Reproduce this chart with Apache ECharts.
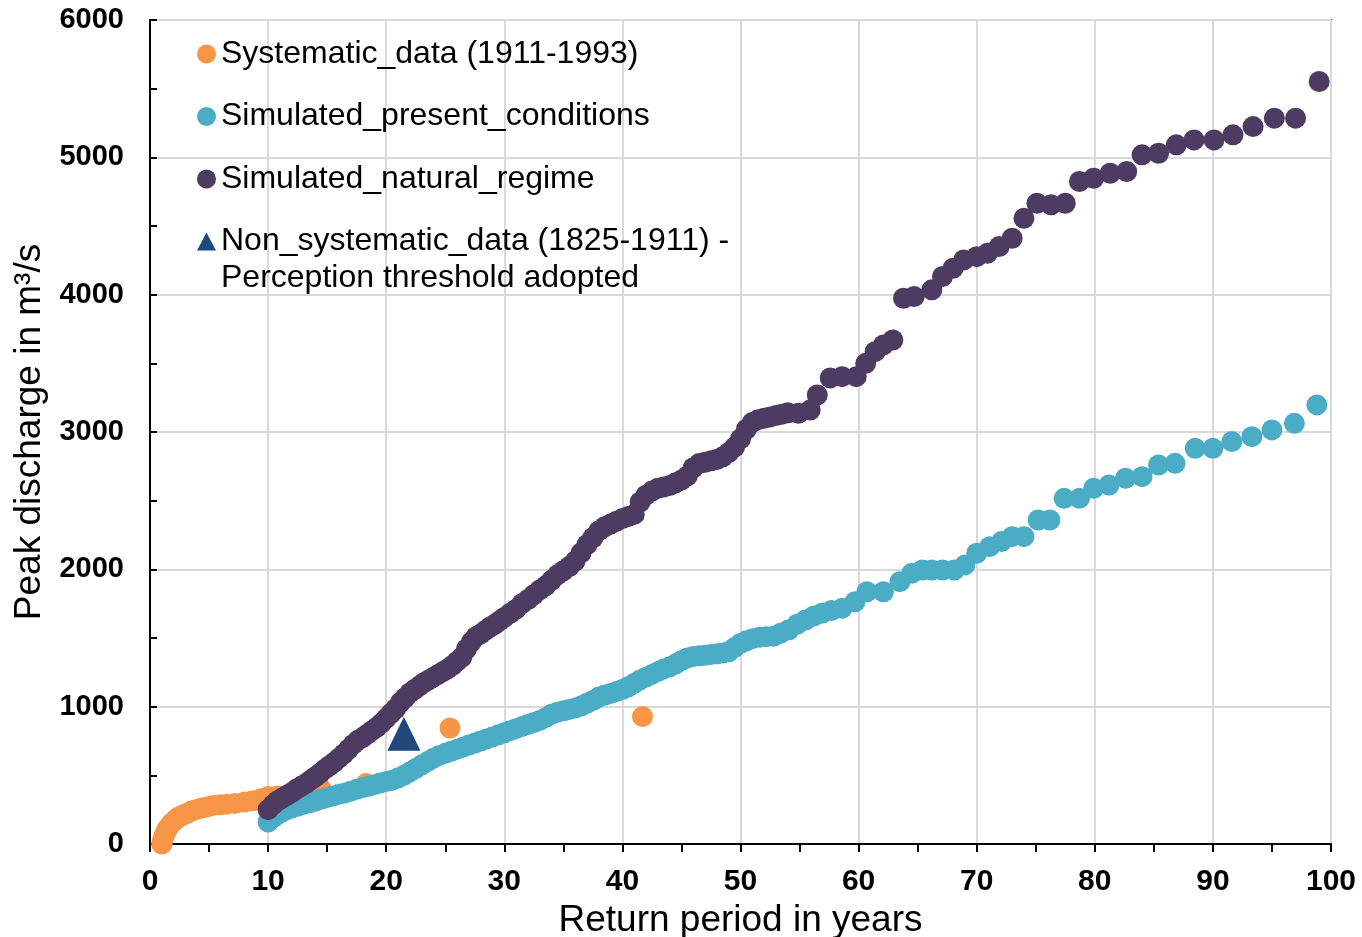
<!DOCTYPE html>
<html>
<head>
<meta charset="utf-8">
<title>Peak discharge vs return period</title>
<script src="https://cdn.jsdelivr.net/npm/echarts@6/dist/echarts.min.js"></script>
<style>
  html, body { margin: 0; padding: 0; background: #fff; }
  #chart { width: 1362px; height: 937px; }
</style>
</head>
<body>
<div id="chart"></div>
<script>
// Return period (years) and peak discharge (m³/s) for each series

const systematicT = [1.0, 1.05, 1.1, 1.2, 1.3, 1.4, 1.5, 1.65, 1.8, 2.0, 2.2, 2.4, 2.65, 2.9, 3.2, 3.5, 3.9, 4.3, 4.8, 5.3, 5.9, 6.5, 7.2, 8.0, 8.7, 9.4, 10.0, 10.8, 11.8, 13.0, 14.5, 18.3, 25.4, 41.7];
const systematicQ = [0, 20, 40, 60, 80, 100, 115, 130, 150, 165, 180, 195, 205, 215, 225, 240, 250, 260, 270, 280, 285, 290, 295, 305, 315, 330, 345, 350, 360, 370, 400, 440, 845, 928];

const presentT = [10.0, 10.4, 10.8, 11.2, 11.6, 12.0, 12.5, 13.0, 13.5, 14.0, 14.5, 15.0, 15.5, 16.0, 16.5, 17.0, 17.5, 18.0, 18.5, 19.0, 19.5, 20.0, 20.5, 21.0, 21.5, 22.0, 22.5, 23.0, 23.5, 24.0, 24.5, 25.0, 25.5, 26.0, 26.5, 27.0, 27.5, 28.0, 28.5, 29.0, 29.5, 30.0, 30.5, 31.0, 31.5, 32.0, 32.5, 33.0, 33.5, 34.0, 34.5, 35.0, 35.5, 36.0, 36.5, 37.0, 37.5, 38.0, 38.5, 39.0, 39.5, 40.0, 40.5, 41.0, 41.5, 42.0, 42.5, 43.0, 43.5, 44.0, 44.5, 45.0, 45.5, 46.0, 46.5, 47.0, 47.5, 48.0, 48.5, 49.0, 49.5, 50.0, 50.5, 51.0, 51.6, 52.2, 52.8, 53.4, 54.1, 54.8, 55.5, 56.2, 56.9, 57.7, 58.6, 59.7, 60.7, 62.1, 63.5, 64.5, 65.4, 66.2, 67.1, 68.1, 69.0, 70.0, 71.1, 72.1, 73.0, 74.0, 75.2, 76.2, 77.4, 78.7, 79.9, 81.2, 82.6, 84.0, 85.4, 86.8, 88.5, 90.0, 91.6, 93.3, 95.0, 96.9, 98.8];
const presentQ = [160, 190, 215, 235, 250, 262, 275, 288, 300, 312, 325, 338, 350, 362, 372, 385, 398, 410, 420, 432, 445, 455, 465, 480, 500, 525, 550, 575, 600, 625, 645, 660, 675, 690, 705, 720, 735, 750, 765, 780, 795, 810, 825, 840, 855, 870, 885, 900, 920, 945, 960, 970, 980, 990, 1005, 1025, 1045, 1070, 1085, 1095, 1110, 1125, 1145, 1170, 1195, 1215, 1235, 1255, 1275, 1290, 1310, 1335, 1355, 1365, 1370, 1375, 1380, 1385, 1390, 1400, 1430, 1460, 1480, 1495, 1505, 1510, 1512, 1535, 1560, 1600, 1631, 1660, 1680, 1700, 1716, 1764, 1837, 1837, 1910, 1971, 1995, 1995, 1995, 1995, 2032, 2117, 2165, 2202, 2238, 2238, 2359, 2359, 2517, 2517, 2590, 2614, 2663, 2675, 2760, 2772, 2881, 2881, 2930, 2966, 3015, 3063, 3197];

const naturalT = [10.0, 10.4, 10.8, 11.2, 11.6, 12.0, 12.4, 12.8, 13.2, 13.6, 14.0, 14.4, 14.8, 15.2, 15.6, 16.0, 16.4, 16.8, 17.2, 17.6, 18.0, 18.4, 18.8, 19.2, 19.6, 20.0, 20.4, 20.8, 21.2, 21.6, 22.0, 22.4, 22.8, 23.2, 23.6, 24.0, 24.4, 24.8, 25.2, 25.6, 26.0, 26.4, 26.8, 27.2, 27.6, 28.0, 28.4, 28.8, 29.2, 29.6, 30.0, 30.5, 31.0, 31.5, 32.0, 32.5, 33.0, 33.5, 34.0, 34.5, 35.0, 35.5, 36.0, 36.5, 37.0, 37.5, 38.0, 38.5, 39.0, 39.5, 40.0, 40.5, 41.0, 41.5, 42.0, 42.5, 43.0, 43.5, 44.0, 44.5, 45.0, 45.5, 46.0, 46.5, 47.0, 47.5, 48.0, 48.5, 49.0, 49.5, 50.0, 50.5, 51.0, 51.5, 52.0, 52.5, 53.0, 53.5, 54.0, 54.9, 55.9, 56.5, 57.6, 58.6, 59.8, 60.6, 61.4, 62.1, 62.9, 63.8, 64.7, 66.2, 67.1, 68.0, 68.9, 70.0, 70.9, 71.9, 73.0, 74.0, 75.1, 76.3, 77.5, 78.7, 79.9, 81.3, 82.7, 84.0, 85.4, 86.9, 88.4, 90.1, 91.7, 93.4, 95.2, 97.0, 99.0];
const naturalQ = [250, 285, 315, 335, 355, 375, 400, 420, 440, 465, 490, 515, 545, 570, 595, 625, 655, 690, 725, 755, 775, 800, 825, 850, 880, 915, 950, 985, 1030, 1065, 1100, 1125, 1150, 1175, 1195, 1215, 1235, 1255, 1275, 1300, 1330, 1360, 1420, 1470, 1510, 1530, 1555, 1580, 1600, 1625, 1650, 1680, 1710, 1750, 1780, 1815, 1850, 1880, 1920, 1960, 1990, 2020, 2060, 2120, 2180, 2230, 2280, 2310, 2330, 2350, 2370, 2385, 2400, 2490, 2540, 2570, 2590, 2600, 2610, 2630, 2650, 2680, 2740, 2770, 2780, 2790, 2800, 2820, 2850, 2890, 2950, 3020, 3070, 3090, 3100, 3110, 3120, 3130, 3140, 3136, 3160, 3270, 3394, 3403, 3403, 3500, 3585, 3634, 3670, 3974, 3986, 4035, 4132, 4192, 4253, 4277, 4301, 4350, 4411, 4556, 4666, 4654, 4666, 4824, 4848, 4884, 4896, 5018, 5030, 5091, 5127, 5127, 5164, 5224, 5285, 5285, 5552];

const nonSystematicT = [21.5];
const nonSystematicQ = [803];

const xTicks = { min: 0, max: 100, step: 10 };
const yTicks = { min: 0, max: 6000, step: 1000 };

const seriesNames = [
  'Systematic_data (1911-1993)',
  'Simulated_present_conditions',
  'Simulated_natural_regime',
  'Non_systematic_data (1825-1911) - Perception threshold adopted'
];
const seriesColors = ['#F79646', '#4BACC6', '#4E3B62', '#1F497D'];

function pairs(xs, ys) {
  return xs.map((x, i) => [x, ys[i]]);
}

const FONT = '"Liberation Sans", Arial, sans-serif';

const chart = echarts.init(document.getElementById('chart'), null, { renderer: 'canvas' });

chart.setOption({
  animation: false,
  backgroundColor: '#ffffff',
  textStyle: { fontFamily: FONT, color: '#000' },
  grid: {
    left: 150, right: 31, top: 20, bottom: 93,
    show: true, borderColor: '#000', borderWidth: 1.5,
    containLabel: false,
    outerBoundsMode: 'none'
  },
  legend: [
    {
      orient: 'vertical',
      left: 197, top: 36, padding: 0,
      itemWidth: 19, itemHeight: 19, itemGap: 26.5,
      selectedMode: false,
      data: [
        { name: seriesNames[0], icon: 'circle' },
        { name: seriesNames[1], icon: 'circle' },
        { name: seriesNames[2], icon: 'circle' }
      ],
      textStyle: { fontFamily: FONT, fontSize: 32, color: '#000', lineHeight: 36 }
    },
    {
      orient: 'vertical',
      left: 197, top: 186, padding: 0,
      itemWidth: 19, itemHeight: 18,
      selectedMode: false,
      data: [{ name: seriesNames[3], icon: 'triangle' }],
      formatter: () => '\nNon_systematic_data (1825-1911) -\nPerception threshold adopted',
      textStyle: { fontFamily: FONT, fontSize: 32, color: '#000', lineHeight: 37 }
    }
  ],
  xAxis: {
    type: 'value',
    min: xTicks.min, max: xTicks.max, interval: xTicks.step,
    name: 'Return period in years',
    nameLocation: 'middle',
    nameGap: 47,
    nameTextStyle: { fontFamily: FONT, fontSize: 37, color: '#000' },
    axisLine: { show: true, onZero: false, lineStyle: { color: '#000', width: 2 } },
    axisTick: { show: true, inside: false, length: 8, lineStyle: { color: '#000', width: 2 } },
    minorTick: { show: true, splitNumber: 2, length: 8, lineStyle: { color: '#000', width: 2 } },
    axisLabel: { fontFamily: FONT, fontSize: 30, fontWeight: 'bold', color: '#000', margin: 23 },
    splitLine: { show: true, lineStyle: { color: '#D9D9D9', width: 2 } }
  },
  yAxis: {
    type: 'value',
    min: yTicks.min, max: yTicks.max, interval: yTicks.step,
    name: 'Peak discharge in m³/s',
    nameLocation: 'middle',
    nameGap: 89,
    nameRotate: 90,
    nameTextStyle: { fontFamily: FONT, fontSize: 37, color: '#000' },
    axisLine: { show: true, onZero: false, lineStyle: { color: '#000', width: 2 } },
    axisTick: { show: true, inside: true, length: 7, lineStyle: { color: '#000', width: 2 } },
    minorTick: { show: true, splitNumber: 2, length: 7, lineStyle: { color: '#000', width: 2 } },
    axisLabel: {
      fontFamily: FONT, fontSize: 29, fontWeight: 'bold', color: '#000', margin: 26,
      formatter: (v) => String(v)
    },
    splitLine: { show: true, lineStyle: { color: '#D9D9D9', width: 2 } }
  },
  series: [
    {
      name: seriesNames[0], type: 'scatter', symbol: 'circle', symbolSize: 21,
      itemStyle: { color: seriesColors[0], opacity: 1 },
      data: pairs(systematicT, systematicQ), z: 2
    },
    {
      name: seriesNames[1], type: 'scatter', symbol: 'circle', symbolSize: 21,
      itemStyle: { color: seriesColors[1], opacity: 1 },
      data: pairs(presentT, presentQ), z: 3
    },
    {
      name: seriesNames[2], type: 'scatter', symbol: 'circle', symbolSize: 21,
      itemStyle: { color: seriesColors[2], opacity: 1 },
      data: pairs(naturalT, naturalQ), z: 4
    },
    {
      name: seriesNames[3], type: 'scatter', symbol: 'triangle', symbolSize: [33, 34],
      itemStyle: { color: seriesColors[3], opacity: 1 },
      data: pairs(nonSystematicT, nonSystematicQ), z: 5
    }
  ]
});
</script>
</body>
</html>
